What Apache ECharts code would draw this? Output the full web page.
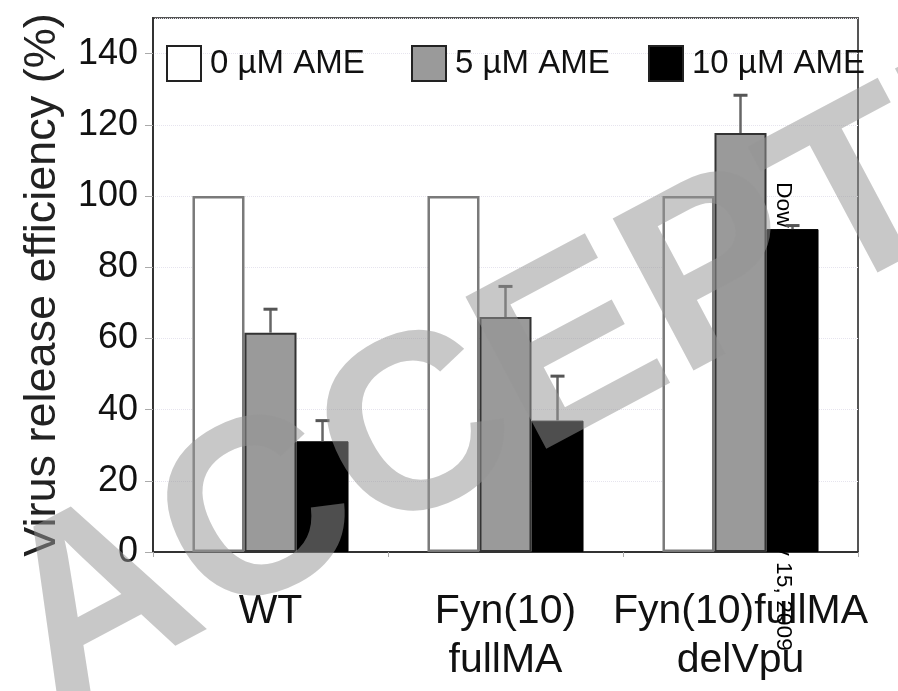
<!DOCTYPE html>
<html>
<head>
<meta charset="utf-8">
<style>html,body{margin:0;padding:0;background:#fff;}#c{width:898px;height:691px;}</style>
<script src="https://cdn.jsdelivr.net/npm/echarts@6/dist/echarts.min.js"></script>
</head>
<body>
<div id="c"></div>
<script>
// ---- data ----
const categories = ['WT', 'Fyn(10)\nfullMA', 'Fyn(10)fullMA\ndelVpu'];
const seriesNames = ['0 \u00b5M AME', '5 \u00b5M AME', '10 \u00b5M AME'];
const ame0 = [100, 100, 100];
const ame5 = [61.6, 66.0, 117.7];
const ame10 = [31.1, 36.9, 90.7];
const err5 = [6.6, 8.6, 10.6];
const err10 = [5.8, 12.5, 1.0];
const yTicks = [0, 20, 40, 60, 80, 100, 120, 140];
const yAxisTitle = 'Virus release efficiency (%)';
const watermark = 'ACCEPTED';
const sideNote = 'Downloaded from jvi.asm.org on July 15, 2009';

const FONT = '"Liberation Sans", Arial, sans-serif';
const CAT_GAP = 0.336;
const nBars = 3;

function errData(vals, errs, k) {
  return vals.map((v, i) => [i, v + errs[i], v, k]);
}

const chart = echarts.init(document.getElementById('c'), null, {renderer: 'canvas'});

function renderErr(params, api) {
  const ci = api.value(0), top = api.value(1), base = api.value(2), k = api.value(3);
  const bandW = api.size([1, 0])[0];
  const barW = bandW * (1 - CAT_GAP) / nBars;
  const pb = api.coord([ci, base]);
  const pt = api.coord([ci, top]);
  const x = pb[0] + (k - 1) * barW;
  const st = {stroke: '#666', lineWidth: 2.5};
  return {
    type: 'group',
    children: [
      {type: 'line', shape: {x1: x, y1: pb[1], x2: x, y2: pt[1]}, style: st},
      {type: 'line', shape: {x1: x - 7, y1: pt[1], x2: x + 7, y2: pt[1]}, style: {stroke: '#555', lineWidth: 3}}
    ]
  };
}

const legendCommon = {
  orient: 'horizontal', top: 40, itemWidth: 34, itemHeight: 35, icon: 'rect',
  itemStyle: {borderColor: '#222', borderWidth: 2},
  textStyle: {fontSize: 33, color: '#111', fontFamily: FONT, padding: [0, 0, 0, 4]},
  selectedMode: false
};

const option = {
  animation: false,
  backgroundColor: '#fff',
  grid: {left: 153, right: 40, top: 18, bottom: 139, show: true, borderColor: '#555', borderWidth: 2, backgroundColor: 'transparent'},
  legend: [
    Object.assign({}, legendCommon, {left: 161, data: [seriesNames[0]]}),
    Object.assign({}, legendCommon, {left: 406, data: [seriesNames[1]]}),
    Object.assign({}, legendCommon, {left: 643, data: [seriesNames[2]]})
  ],
  xAxis: {
    type: 'category', data: categories,
    axisLine: {lineStyle: {color: '#333', width: 2}},
    axisTick: {show: true, length: 5, lineStyle: {color: '#aaa'}},
    axisLabel: {fontSize: 41, lineHeight: 49, color: '#111', fontFamily: FONT, margin: 35, interval: 0}
  },
  yAxis: {
    type: 'value', min: 0, max: 150, interval: 20,
    name: yAxisTitle, nameLocation: 'middle', nameRotate: 90, nameGap: 88,
    nameTextStyle: {fontSize: 45, color: '#222', fontFamily: FONT},
    axisLine: {show: true, lineStyle: {color: '#333', width: 2}},
    axisTick: {show: true, length: 8, lineStyle: {color: '#aaa'}},
    axisLabel: {fontSize: 36, color: '#111', fontFamily: FONT, margin: 15, showMaxLabel: false,
      formatter: v => (yTicks.indexOf(v) >= 0 ? String(v) : '')},
    splitLine: {show: true, lineStyle: {type: 'dotted', color: '#e6e4ee', width: 1}}
  },
  series: [
    {name: seriesNames[0], type: 'bar', data: ame0, barGap: '0%', barCategoryGap: (CAT_GAP * 100) + '%',
     itemStyle: {color: '#ffffff', borderColor: '#7a7a7a', borderWidth: 2.5}},
    {name: seriesNames[1], type: 'bar', data: ame5, barGap: '0%', barCategoryGap: (CAT_GAP * 100) + '%',
     itemStyle: {color: '#9a9a9a', borderColor: '#333', borderWidth: 2}},
    {name: seriesNames[2], type: 'bar', data: ame10, barGap: '0%', barCategoryGap: (CAT_GAP * 100) + '%',
     itemStyle: {color: '#000000', borderColor: '#000', borderWidth: 1}},
    {type: 'custom', renderItem: renderErr, data: errData(ame5, err5, 1), z: 5,
     encode: {x: 0, y: 1}},
    {type: 'custom', renderItem: renderErr, data: errData(ame10, err10, 2), z: 5,
     encode: {x: 0, y: 1}}
  ],
  graphic: [
    {type: 'text', x: 772, y: 182, rotation: -Math.PI / 2, z: 1, silent: true,
     style: {text: sideNote, fontSize: 22.8, fontFamily: FONT, fill: '#000', align: 'left', verticalAlign: 'bottom'}},
    {type: 'text', x: 21, y: 650, rotation: 28 * Math.PI / 180, z: 100, silent: true,
     style: {text: watermark, fontSize: 250, fontWeight: 'bold', fontFamily: FONT,
       fill: 'rgba(149,149,149,0.52)', align: 'left', verticalAlign: 'middle'}}
  ]
};
chart.setOption(option);
</script>
</body>
</html>
